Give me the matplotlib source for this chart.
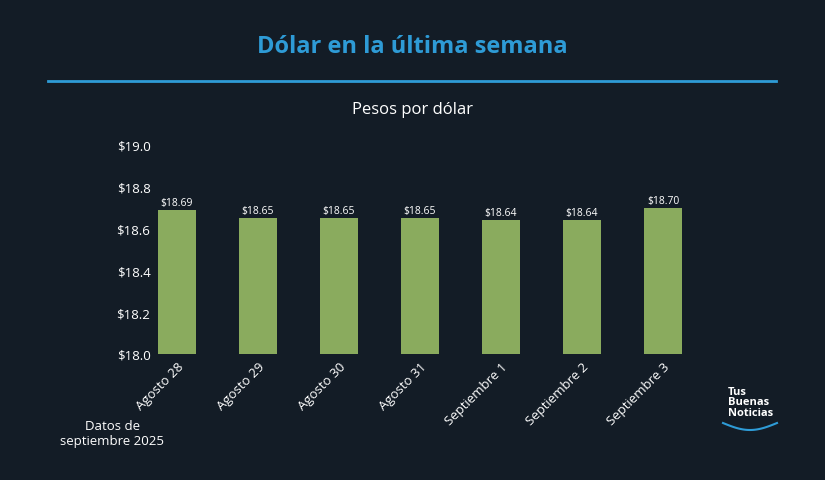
import matplotlib.pyplot as plt
import numpy as np

dias = ['Agosto 28', 'Agosto 29', 'Agosto 30', 'Agosto 31',
        'Septiembre 1', 'Septiembre 2', 'Septiembre 3']
precios = [18.69, 18.65, 18.65, 18.65, 18.64, 18.64, 18.70]
yticks = [18.0, 18.2, 18.4, 18.6, 18.8, 19.0]

bg = '#131c26'
azul = '#2e9bd6'
verde = '#8aab5e'

plt.rcParams['font.family'] = 'Open Sans'
fig = plt.figure(figsize=(8.25, 4.81), dpi=100, facecolor=bg)

fig.text(0.5, 1 - 47/481, 'Dólar en la última semana', ha='center', va='center',
         color=azul, fontsize=17, fontweight='bold')
fig.add_artist(plt.Line2D([48/825, 776/825], [1 - 82/481] * 2, color=azul, lw=2))
fig.text(0.5, 1 - 110/481, 'Pesos por dólar', ha='center', va='center',
         color='white', fontsize=12)

ax = fig.add_axes([136.5/825, 1 - 355/481, 567/825, 209/481])
ax.set_facecolor(bg)
x = np.arange(len(dias))
ax.bar(x, precios, width=0.47, color=verde)
for xi, p in zip(x, precios):
    ax.text(xi, p + 0.01, f'${p:.2f}', ha='center', va='bottom', color='white', fontsize=7.5)
ax.set_xlim(-0.5, len(dias) - 0.5)
ax.set_ylim(18.0, 19.0)
ax.set_yticks(yticks)
ax.set_yticklabels([f'${t:.1f}' for t in yticks], color='white', fontsize=9.5)
ax.set_xticks(x)
ax.set_xticklabels(dias, rotation=45, ha='right', rotation_mode='anchor',
                   color='white', fontsize=9.5)
ax.tick_params(length=0, pad=4)
ax.tick_params(axis='y', pad=-10)
for s in ax.spines.values():
    s.set_visible(False)

fig.text(112/825, 1 - 434/481, 'Datos de\nseptiembre 2025', ha='center', va='center',
         color='white', fontsize=9.5, linespacing=1.3)
fig.text(728/825, 1 - 403/481, 'Tus\nBuenas\nNoticias', ha='left', va='center',
         color='white', fontsize=8, fontweight='bold', linespacing=0.95)
t = np.linspace(0, np.pi, 50)
fig.add_artist(plt.Line2D((723 + 54*t/np.pi) / 825, 1 - (424 + 7*np.sin(t)) / 481,
                          color=azul, lw=1.5))

fig.savefig('out.png', dpi=100, facecolor=bg)
